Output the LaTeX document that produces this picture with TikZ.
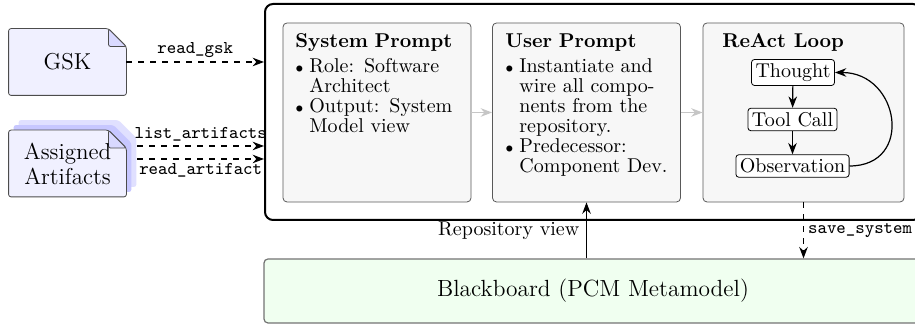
\documentclass[tikz,border=0pt]{standalone}
\usepackage{fontspec}
\usetikzlibrary{positioning}
\usetikzlibrary{backgrounds}
\usetikzlibrary{arrows.meta}
\tikzset{myDoc/.style={minimum width=58.5pt, minimum height=33pt, inner sep=2pt, align=center, font=\fontsize{11.5}{12.5}\selectfont}}
\tikzset{myPanel/.style={draw=black!65, fill=black!3, rounded corners=2pt, minimum width=94pt, minimum height=89.5pt}}
\tikzset{myText/.style={text width=81.5pt, align=left, inner sep=0pt, font=\fontsize{10}{10}\selectfont}}
\tikzset{myStep/.style={draw, fill=white, rounded corners=1.5pt, inner sep=2pt}}
\tikzset{myFlow/.style={-Stealth, semithick}}
\tikzset{myTool/.style={-Stealth, semithick, dashed}}
\tikzset{myLabel/.style={font=\small\ttfamily, inner sep=2pt}}

\newcommand{\pitem}[1]{\par\hangindent=7pt\hangafter=1\noindent\makebox[7pt][l]{$\scriptstyle\bullet$}#1\par}
\newcommand{\docpath}[2]{([shift={#2}]#1.south west) -- ([shift={#2}]#1.north west) -- ([shift={#2},xshift=-9pt]#1.north east) -- ([shift={#2},yshift=-9pt]#1.north east) -- ([shift={#2}]#1.south east) -- cycle}
\newcommand{\foldpath}[1]{([xshift=-9pt]#1.north east) -- ([xshift=-9pt,yshift=-9pt]#1.north east) -- ([yshift=-9pt]#1.north east) -- cycle}

\begin{document}
\begin{tikzpicture}[x=0.5pt, y=0.5pt]
\useasboundingbox (0,0) rectangle (915,324);

\node[myDoc] (gsk) at (67.5,262) {GSK};
\node[myDoc] (art) at (67.5,160.5) {Assigned\\Artifacts};

\begin{scope}[on background layer, rounded corners=1.2pt]
\fill[blue!12] \docpath{art}{(10,10)};
\fill[blue!22] \docpath{art}{(5,5)};
\filldraw[fill=blue!6, draw=black!70] \docpath{art}{(0,0)};
\filldraw[fill=blue!15, draw=black!70] \foldpath{art};
\filldraw[fill=blue!6, draw=black!70] \docpath{gsk}{(0,0)};
\filldraw[fill=blue!15, draw=black!70] \foldpath{gsk};
\end{scope}

\node[draw, line width=1pt, rounded corners=4pt, minimum width=328pt, minimum height=108pt] (agent) at (593,212) {};

\node[myPanel] (sys) at (377,211.5) {};
\node[myPanel] (usr) at (586.5,211.5) {};
\node[myPanel, minimum width=100.5pt] (react) at (803.5,211.5) {};

\node[myText, anchor=north west] (systxt) at (295,291) {\textbf{System Prompt}\par\vspace{2.5pt}%
\pitem{Role: Software Architect}\pitem{Output: System Model view}};
\node[myText, anchor=north west] (usrtxt) at (505,291) {\textbf{User Prompt}\par\vspace{2.5pt}%
\pitem{Instantiate and wire all components from the repository.}\pitem{Predecessor: Component Dev.}};
\node[font=\bfseries, inner sep=0pt, anchor=north west] (looptitle) at (722,291) {ReAct Loop};

\node[myStep] (thought) at (793,251.5) {Thought};
\node[myStep] (tool) at (792.5,204.5) {Tool Call};
\node[myStep] (obs) at (792.5,158) {Observation};
\draw[myFlow] (thought) -- (tool);
\draw[myFlow] (tool) -- (obs);
\draw[myFlow] (obs.east) to[out=0, in=0, looseness=1.75] (thought.east);

\draw[-Stealth, gray!45, semithick] (sys) -- (usr);
\draw[-Stealth, gray!45, semithick] (usr) -- (react);

\coordinate (listfrom) at ([shift={(11,17.5)}]art.east);
\coordinate (readfrom) at ([shift={(11,4.5)}]art.east);
\draw[myTool] (gsk.east) -- (gsk.east -| agent.west) node[myLabel, midway, above] {read\_gsk};
\draw[myTool] (listfrom) -- (listfrom -| agent.west) node[myLabel, midway, above] {list\_artifacts};
\draw[myTool] (readfrom) -- (readfrom -| agent.west) node[myLabel, midway, below] {read\_artifact};

\node[draw=black!55, semithick, fill=green!6, rounded corners=2pt, minimum width=329pt, minimum height=32pt, font=\fontsize{11.7}{14}\selectfont] (bb) at (593,33) {Blackboard (PCM Metamodel)};
\draw[myFlow] (bb.north -| usr.south) -- (usr.south) node[midway, left] {Repository view};
\draw[myTool] (react.south) -- (react.south |- bb.north) node[myLabel, midway, right] {save\_system};

\end{tikzpicture}
\end{document}
